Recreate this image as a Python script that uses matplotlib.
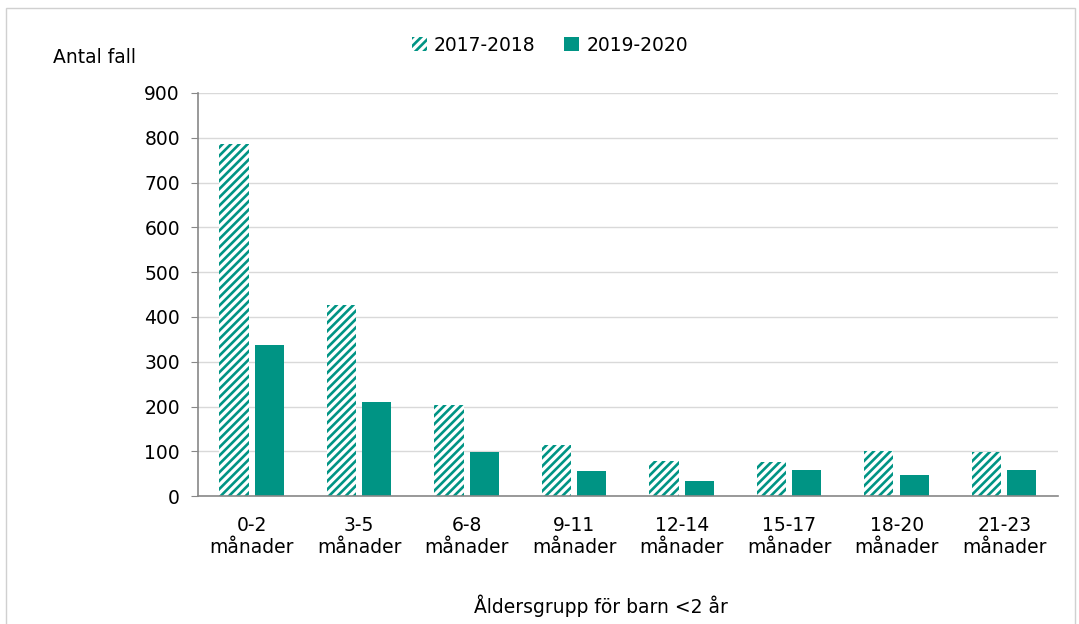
import matplotlib.pyplot as plt
import matplotlib.patches as mpatches
import numpy as np

plt.rcParams['font.family'] = ['DejaVu Sans']
plt.rcParams['hatch.linewidth'] = 1.9

groups = ["0-2\nmånader", "3-5\nmånader", "6-8\nmånader", "9-11\nmånader",
          "12-14\nmånader", "15-17\nmånader", "18-20\nmånader", "21-23\nmånader"]
cases_2017_2018 = [786, 427, 203, 114, 78, 76, 100, 98]
cases_2019_2020 = [337, 210, 98, 56, 33, 58, 47, 58]

teal = '#009484'

fig = plt.figure(figsize=(10.79, 6.24), dpi=100)
ax = fig.add_axes([0.1835, 0.205, 0.797, 0.646])

x = np.arange(len(groups))
w = 0.27
ax.bar(x - 0.165, cases_2017_2018, w, facecolor='white', edgecolor=teal,
       hatch='////', linewidth=0, label='2017-2018')
ax.bar(x + 0.165, cases_2019_2020, w, color=teal, label='2019-2020')

ax.set_xlim(-0.5, len(groups) - 0.5)
ax.set_ylim(0, 900)
ax.set_yticks(range(0, 901, 100))
ax.set_xticks(x)
ax.set_xticklabels(groups, fontsize=13.5, linespacing=1.25)
ax.tick_params(axis='y', labelsize=13.5, length=5, color='#888888', pad=8)
ax.tick_params(axis='x', length=0, pad=14)
ax.yaxis.grid(True, color='#d9d9d9', linewidth=1)
ax.set_axisbelow(True)
for s in ['top', 'right']:
    ax.spines[s].set_visible(False)
for s in ['left', 'bottom']:
    ax.spines[s].set_color('#888888')
    ax.spines[s].set_linewidth(1.2)

fig.text(0.049, 0.908, 'Antal fall', fontsize=13.5, va='center')
fig.text(0.557, 0.03, 'Åldersgrupp för barn <2 år', fontsize=13.5, ha='center', va='center')

ax.legend(loc='center', bbox_to_anchor=(0.409, 1.119), ncol=2, frameon=False,
          fontsize=13.5, handlelength=0.8, handleheight=0.8, columnspacing=1.5,
          handletextpad=0.4)

fig.add_artist(mpatches.Rectangle((0.006, -0.05), 0.99, 1.037, transform=fig.transFigure,
                                  fill=False, edgecolor='#d0d0d0', linewidth=1))

fig.savefig('out.png', dpi=100)
